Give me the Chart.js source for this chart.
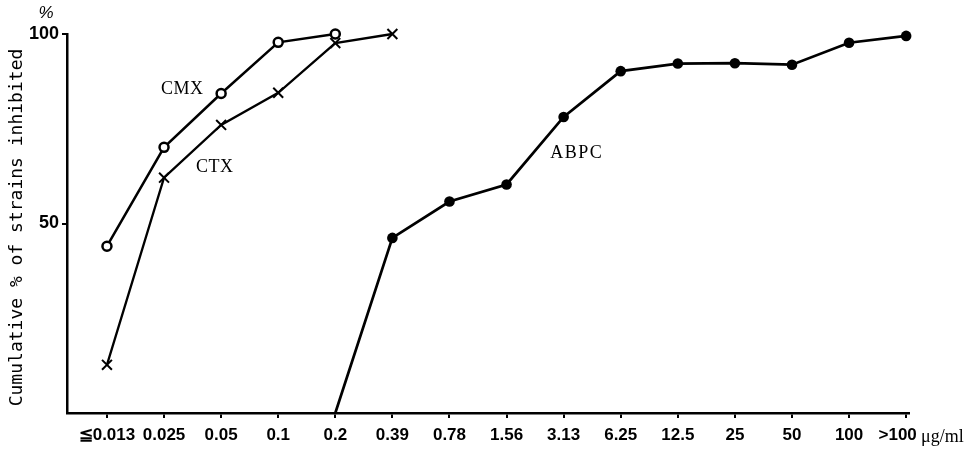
<!DOCTYPE html>
<html>
<head>
<meta charset="utf-8">
<script src="https://cdn.jsdelivr.net/npm/chart.js@4/dist/chart.umd.min.js"></script>
<style>
html,body{margin:0;padding:0;background:#fff;}
#wrap{width:976px;height:451px;position:relative;}
</style>
</head>
<body>
<div id="wrap"><canvas id="c" width="976" height="451"></canvas></div>
<script>
// ---- data ----
const categories = ["≦0.013","0.025","0.05","0.1","0.2","0.39","0.78","1.56","3.13","6.25","12.5","25","50","100",">100\u2002\u2002"];
const cmxValues  = [44.0, 70.1, 84.3, 97.8, 100, null, null, null, null, null, null, null, null, null, null];
const ctxValues  = [12.7, 62.1, 76.0, 84.5, 97.6, 100, null, null, null, null, null, null, null, null, null];
const abpcValues = [null, null, null, null, 0, 46.2, 55.8, 60.3, 78.1, 90.2, 92.2, 92.3, 91.9, 97.7, 99.5];
const yTickValues = [50, 100];
const unitLabel = "μg/ml";
const yTitle = "Cumulative % of strains inhibited";
// series label anchors (in category-index / percent units)
const seriesLabels = [
  {text:"CMX",  x:1.32, y:85.4},
  {text:"CTX",  x:1.89, y:64.8},
  {text:"ABPC", x:8.23, y:68.6}
];

function toPoints(vals){
  const out=[];
  vals.forEach((v,i)=>{ if(v!==null) out.push({x:i,y:v}); });
  return out;
}

const annot = {
  id:'annot',
  afterDraw(chart){
    const ctx = chart.ctx, xs = chart.scales.x, ys = chart.scales.y, ca = chart.chartArea;
    ctx.save();
    ctx.fillStyle = '#000';
    // series labels
    ctx.font = '18px "Liberation Serif", serif';
    ctx.textAlign = 'center';
    ctx.textBaseline = 'middle';
    seriesLabels.forEach(l=>{
      ctx.letterSpacing = l.text.length > 3 ? '1.5px' : '0.5px';
      ctx.fillText(l.text, xs.getPixelForValue(l.x), ys.getPixelForValue(l.y));
    });
    ctx.letterSpacing = '0px';
    // percent sign over y axis
    ctx.font = 'italic 17px "Liberation Sans", sans-serif';
    ctx.textAlign = 'center';
    ctx.textBaseline = 'bottom';
    ctx.fillText('%', ca.left - 21, ca.top - 12);
    // unit label
    ctx.font = '18px "Liberation Serif", serif';
    ctx.textAlign = 'left';
    ctx.textBaseline = 'alphabetic';
    ctx.fillText(unitLabel, ca.right + 12, ca.bottom + 29);
    // y title
    ctx.translate(17, (ca.top + ca.bottom)/2 + 4);
    ctx.rotate(-Math.PI/2);
    ctx.font = '18px "DejaVu Sans Mono", monospace';
    ctx.textAlign = 'center';
    ctx.textBaseline = 'middle';
    ctx.fillText(yTitle, 0, 0);
    ctx.restore();
  }
};

new Chart(document.getElementById('c'), {
  type: 'line',
  data: {
    datasets: [
      {label:'CMX', data: toPoints(cmxValues), borderColor:'#000', borderWidth:2.5,
       pointStyle:'circle', pointRadius:4.5, pointBorderWidth:2.5, pointBackgroundColor:'#fff', pointBorderColor:'#000', clip:false},
      {label:'CTX', data: toPoints(ctxValues), borderColor:'#000', borderWidth:2.3,
       pointStyle:'crossRot', pointRadius:7, pointBorderWidth:2, pointBorderColor:'#000', clip:false},
      {label:'ABPC', data: toPoints(abpcValues), borderColor:'#000', borderWidth:2.7,
       pointStyle:'circle', pointRadius: ctx2 => ctx2.dataIndex===0 ? 0 : 5.3, pointBorderWidth:0,
       pointBackgroundColor:'#000', pointBorderColor:'#000', clip:false}
    ]
  },
  options: {
    responsive:false,
    animation:false,
    events:[],
    layout:{padding:{top:34, right:67, left:0, bottom:0}},
    plugins:{legend:{display:false}, tooltip:{enabled:false}},
    scales:{
      x:{
        type:'linear', min:-0.7, max:14.05,
        afterBuildTicks(axis){ axis.ticks = categories.map((_,i)=>({value:i})); },
        afterFit(scale){ scale.height = 38; },
        border:{display:true, color:'#000', width:2.5},
        grid:{display:true, drawOnChartArea:false, drawTicks:true, tickLength:5, color:'#000', lineWidth:2},
        ticks:{
          autoSkip:false, maxRotation:0, padding:7, color:'#000',
          font:{family:'"Liberation Sans Narrow", "Liberation Sans", sans-serif', size:17, weight:'bold'},
          callback:(v)=>categories[v]
        }
      },
      y:{
        type:'linear', min:0, max:100,
        afterBuildTicks(axis){ axis.ticks = yTickValues.map(v=>({value:v})); },
        afterFit(scale){ scale.width = 67; },
        border:{display:true, color:'#000', width:2.5},
        grid:{display:true, drawOnChartArea:false, drawTicks:true, tickLength:5, color:'#000', lineWidth:2},
        ticks:{
          padding:3, color:'#000',
          font:{family:'"Liberation Sans Narrow", "Liberation Sans", sans-serif', size:18, weight:'bold'},
          callback:(v)=>String(v)
        }
      }
    }
  },
  plugins:[annot]
});
</script>
</body>
</html>
